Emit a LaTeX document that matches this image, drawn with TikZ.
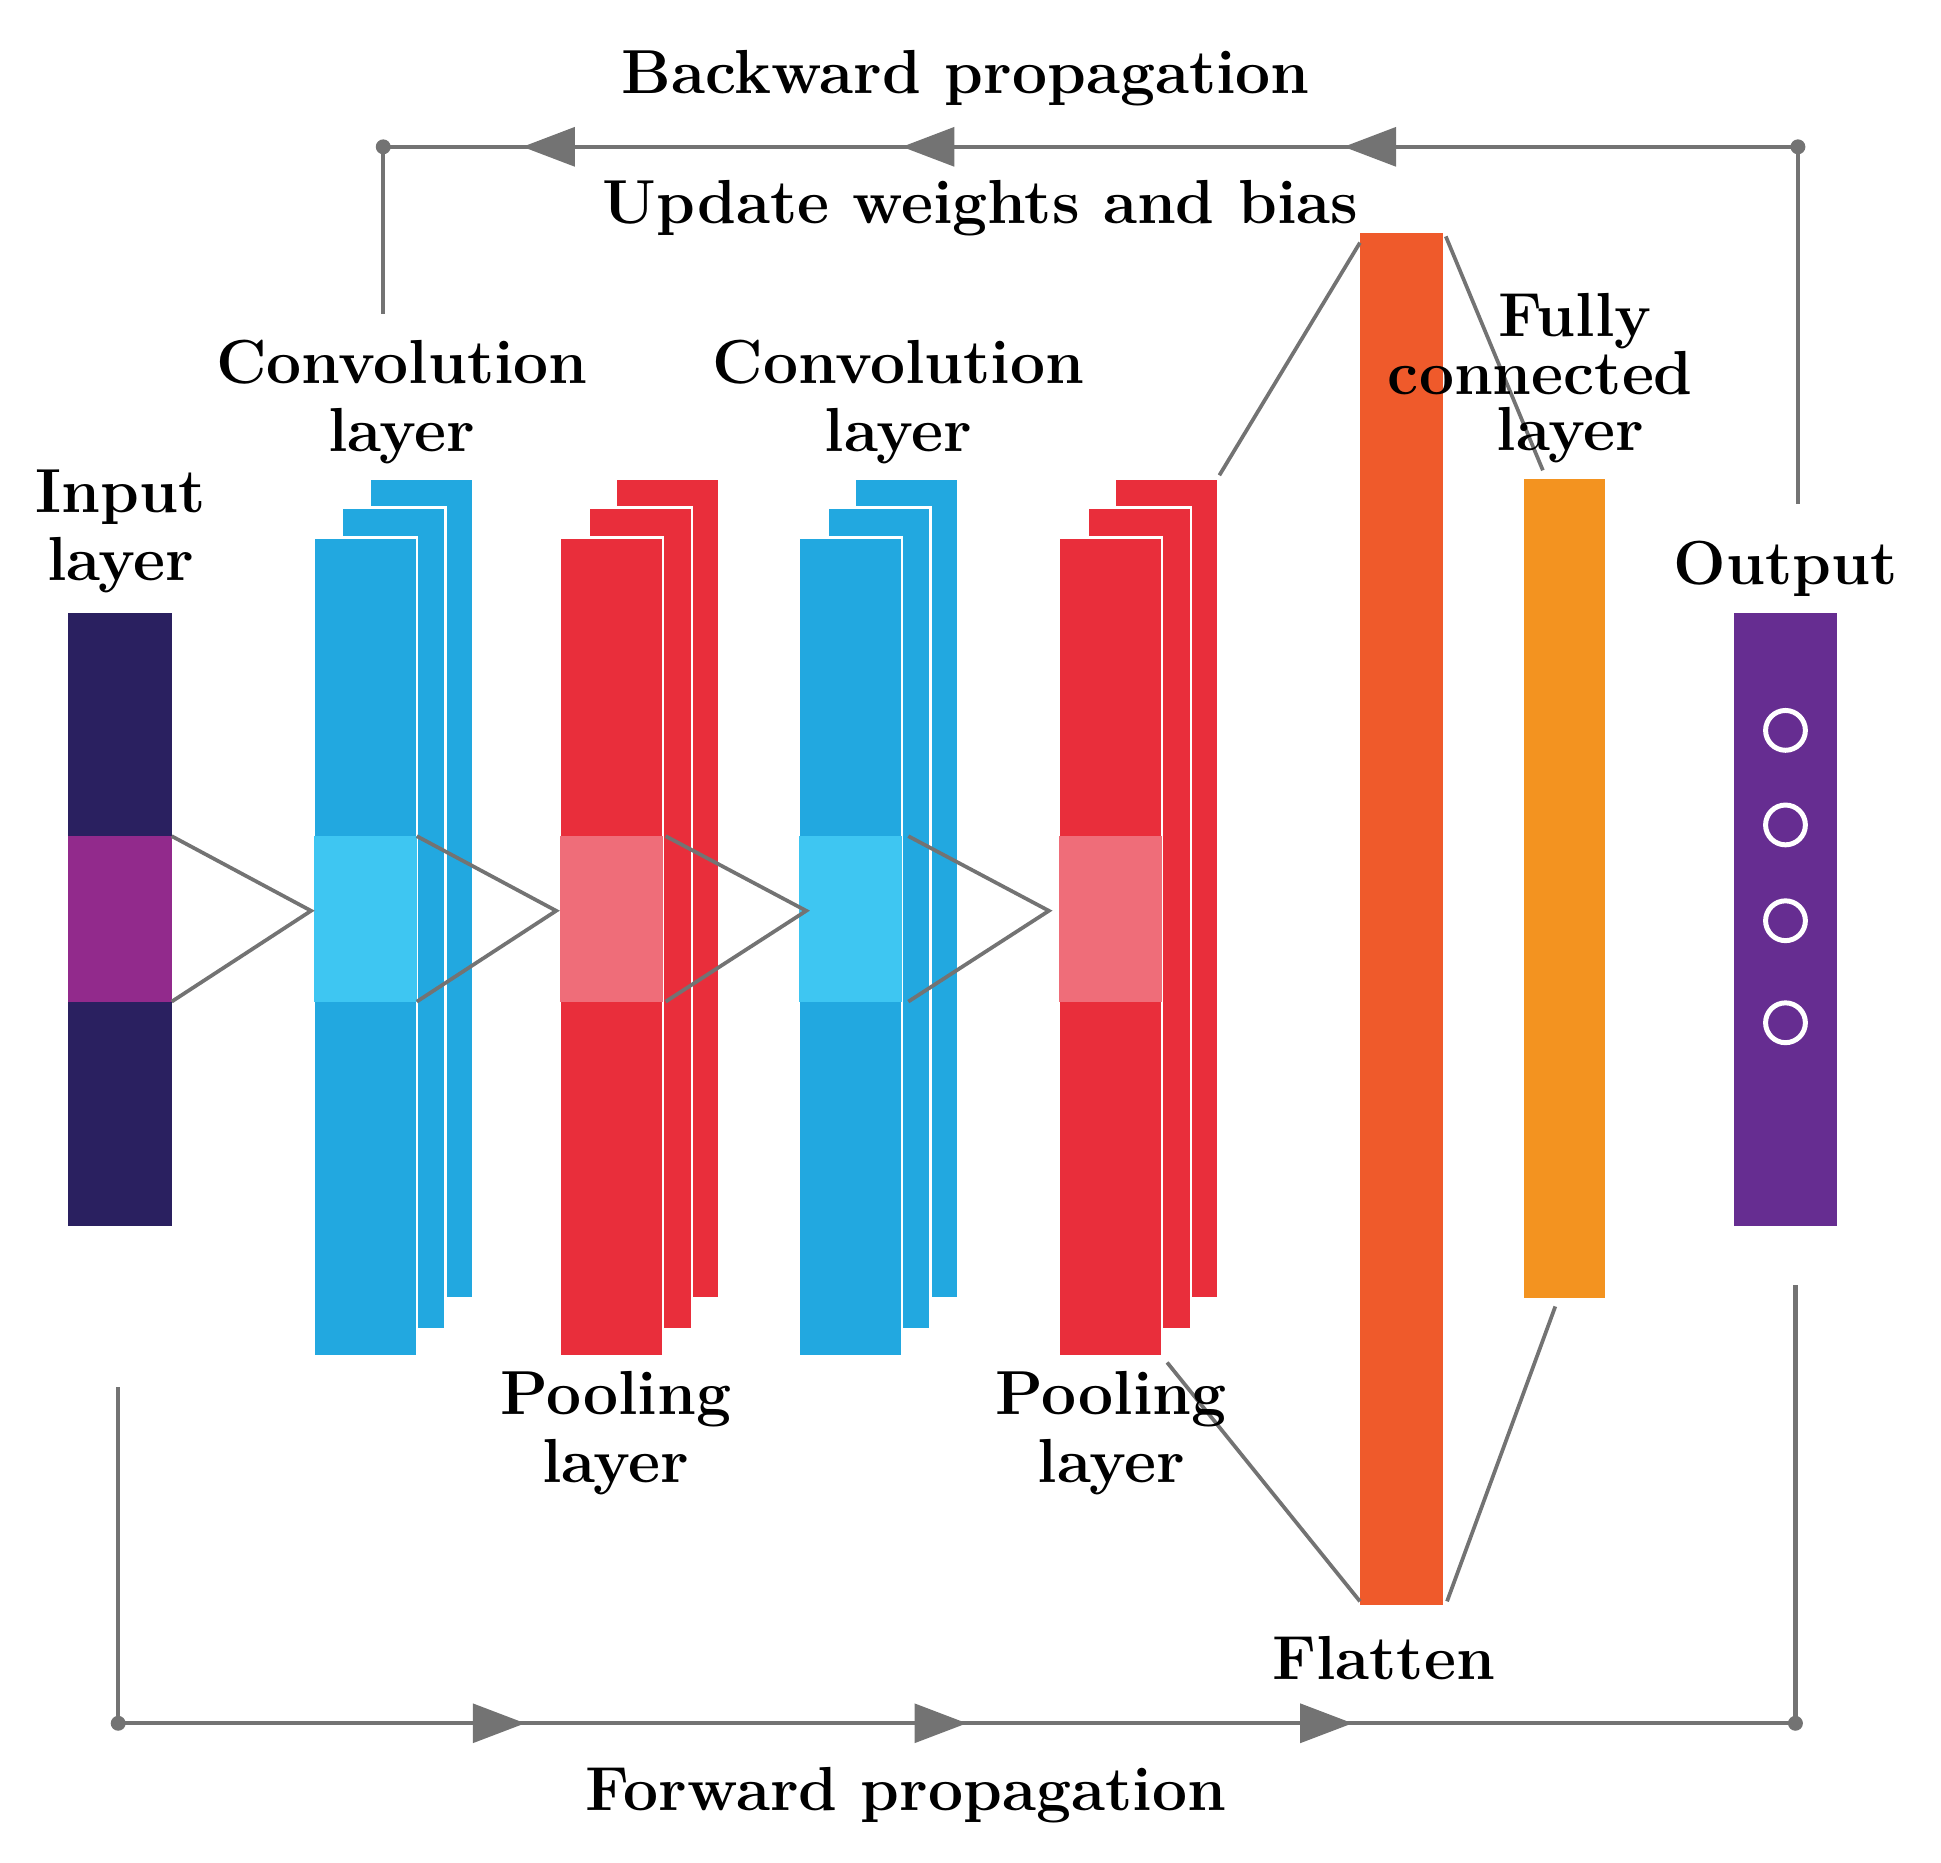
\documentclass[tikz,border=0pt]{standalone}
\begin{document}
\begin{tikzpicture}[x=1pt,y=-1pt,
 lbl/.style={font=\bfseries\fontsize{50}{55}\selectfont,align=center,inner sep=0},
 ln/.style={draw=gray!90!black,line width=3.5pt},
 tri/.style={ln,line width=3pt},
 arrL/.style={fill=gray!90!black},
]
\definecolor{navy}{HTML}{2A2060}\definecolor{inpurple}{HTML}{922A8C}
\definecolor{cblue}{HTML}{22A8E0}\definecolor{cblueL}{HTML}{3EC6F2}
\definecolor{pred}{HTML}{E92E3B}\definecolor{predL}{HTML}{EF6D79}
\definecolor{flat}{HTML}{EF5A2B}\definecolor{fc}{HTML}{F39320}\definecolor{outp}{HTML}{662D91}
\useasboundingbox (0,0) rectangle (1560,1497);
% input
\fill[navy] (55,493) rectangle (138,985);
\fill[inpurple] (55,672) rectangle (138,805);
% stacks
\newcommand{\stackblk}[3]{%
 \fill[#2,draw=white,line width=2pt] (#1+45,385) rectangle (#1+128,1043);
 \fill[#2,draw=white,line width=2pt] (#1+23,408) rectangle (#1+106,1068);
 \fill[#2,draw=white,line width=2pt] (#1,432) rectangle (#1+83,1090);
 \fill[#3] (#1,672) rectangle (#1+83,805);}
\stackblk{252}{cblue}{cblueL}
\stackblk{450}{pred}{predL}
\stackblk{642}{cblue}{cblueL}
\stackblk{851}{pred}{predL}
% flatten, fc, output
\fill[flat] (1093,187) rectangle (1160,1290);
\fill[fc] (1225,385) rectangle (1290,1043);
\fill[outp] (1394,493) rectangle (1476,985);
\foreach \y in {587,663,740,822} \draw[white,line width=4pt] (1435,\y) circle (16);
% triangle connectors
\foreach \a/\b in {138/250,335/447,535/648,730/843}
  \draw[tri] (\a,672) -- (\b,732) -- (\a,805);
\draw[tri] (980,382) -- (1093,195);
\draw[tri] (938,1095) -- (1093,1287);
\draw[tri] (1162,190) -- (1240,378);
\draw[tri] (1250,1050) -- (1163,1287);
% backward
\draw[ln] (308,252) -- (308,118) -- (1445,118) -- (1445,405);
\fill[gray!90!black] (308,118) circle (6) (1445,118) circle (6);
\foreach \x in {420,725,1080} \fill[arrL] (\x,118) -- (\x+42,102) -- (\x+42,134) -- cycle;
% forward
\draw[ln] (95,1115) -- (95,1385) -- (1443,1385) -- (1443,1033);
\fill[gray!90!black] (95,1385) circle (6) (1443,1385) circle (6);
\foreach \x in {380,735,1045} \fill[arrL] (\x+42,1385) -- (\x,1369) -- (\x,1401) -- cycle;
% labels
\node[lbl] at (776,63) {Backward propagation};
\node[lbl] at (788,167) {Update weights and bias};
\node[lbl] at (323,323) {Convolution\\layer};
\node[lbl] at (722,323) {Convolution\\layer};
\node[lbl] at (97,427) {Input\\layer};
\node[lbl] at (495,1152) {Pooling\\layer};
\node[lbl] at (893,1152) {Pooling\\layer};
\node[lbl] at (1266,258) {Fully};
\node[lbl] at (1238,300) {connected};
\node[lbl] at (1262,350) {layer};
\node[lbl] at (1435,457) {Output};
\node[lbl] at (1112,1333) {Flatten};
\node[lbl] at (728,1443) {Forward propagation};
\end{tikzpicture}
\end{document}
